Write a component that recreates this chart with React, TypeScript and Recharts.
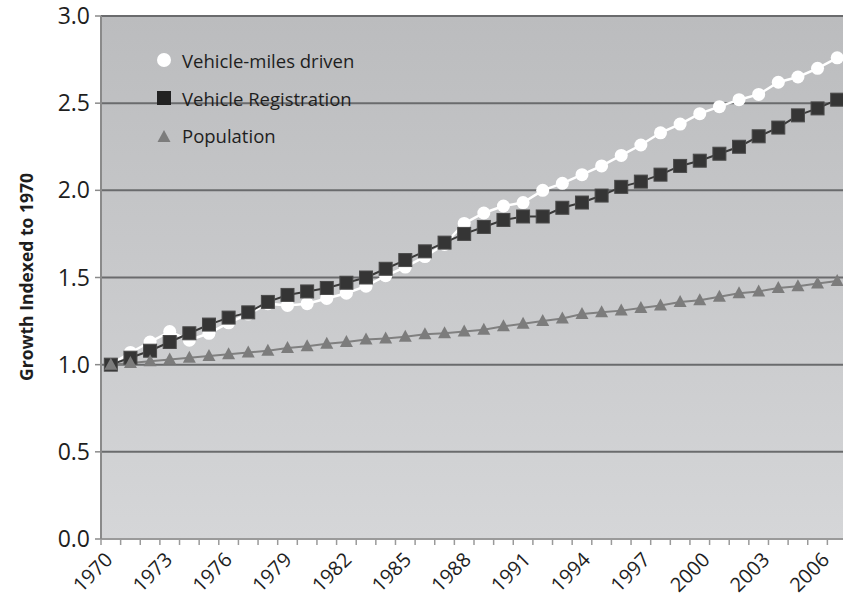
import { LineChart, Line, XAxis, YAxis, CartesianGrid } from 'recharts';

const years = [
  '1970', '1971', '1972', '1973', '1974', '1975', '1976', '1977', '1978', '1979',
  '1980', '1981', '1982', '1983', '1984', '1985', '1986', '1987', '1988', '1989',
  '1990', '1991', '1992', '1993', '1994', '1995', '1996', '1997', '1998', '1999',
  '2000', '2001', '2002', '2003', '2004', '2005', '2006', '2007',
];

const vehicleMiles = [
  1.0, 1.07, 1.13, 1.19, 1.14, 1.18, 1.24, 1.29, 1.35, 1.34,
  1.35, 1.38, 1.41, 1.45, 1.51, 1.56, 1.62, 1.69, 1.81, 1.87,
  1.91, 1.93, 2.0, 2.04, 2.09, 2.14, 2.2, 2.26, 2.33, 2.38,
  2.44, 2.48, 2.52, 2.55, 2.62, 2.65, 2.7, 2.76,
];

const registrations = [
  1.0, 1.04, 1.08, 1.13, 1.18, 1.23, 1.27, 1.3, 1.36, 1.4,
  1.42, 1.44, 1.47, 1.5, 1.55, 1.6, 1.65, 1.7, 1.75, 1.79,
  1.83, 1.85, 1.85, 1.9, 1.93, 1.97, 2.02, 2.05, 2.09, 2.14,
  2.17, 2.21, 2.25, 2.31, 2.36, 2.43, 2.47, 2.52,
];

const population = [
  1.0, 1.01, 1.02, 1.03, 1.04, 1.05, 1.06, 1.07, 1.08, 1.095,
  1.105, 1.12, 1.13, 1.145, 1.15, 1.16, 1.175, 1.18, 1.19, 1.2,
  1.22, 1.235, 1.25, 1.265, 1.29, 1.3, 1.31, 1.325, 1.34, 1.36,
  1.37, 1.39, 1.41, 1.42, 1.44, 1.45, 1.465, 1.48,
];

const yTicks = [0, 0.5, 1, 1.5, 2, 2.5, 3];

const data = years.map((year, i) => ({
  year,
  miles: vehicleMiles[i],
  registration: registrations[i],
  population: population[i],
}));

const FONT = '"Open Sans", "Noto Sans", sans-serif';
const Y_AXIS_W = 101;
const BAND = 19.63;
const CHART_W = Math.round(Y_AXIS_W + BAND * years.length);

const WHITE = '#ffffff';
const DARK = '#353535';
const GREY = '#7c7c7c';

// ticks sit on the band edges, labels every third year
function XTick(props: any) {
  const { x, y, payload, index } = props;
  const left = x - BAND / 2;
  const lx = x + 3 + index * 0.28;
  const ly = y + 22;
  return (
    <g>
      <line x1={left} x2={left} y1={y} y2={y + 6} stroke="#9a9a9a" strokeWidth={1.5} />
      {index % 3 === 0 && (
        <text
          x={lx}
          y={ly}
          transform={`rotate(-45, ${lx}, ${ly})`}
          textAnchor="end"
          fontSize={20}
          fontFamily={FONT}
          fill="#1e1e1e"
        >
          {payload.value}
        </text>
      )}
    </g>
  );
}

const squareDot = (props: any) => {
  const { cx, cy, index } = props;
  return <rect key={`sq-${index}`} x={cx - 6.5} y={cy - 6.5} width={13} height={13} fill={DARK} stroke="#4a4a4a" strokeWidth={1} />;
};

const triDot = (props: any) => {
  const { cx, cy, index } = props;
  return (
    <polygon
      key={`tri-${index}`}
      points={`${cx},${cy - 7} ${cx + 6.5},${cy + 5} ${cx - 6.5},${cy + 5}`}
      fill={GREY}
    />
  );
};

const legendItems = [
  { name: 'Vehicle-miles driven', shape: 'circle' },
  { name: 'Vehicle Registration', shape: 'square' },
  { name: 'Population', shape: 'triangle' },
];

function LegendBox() {
  return (
    <div
      style={{
        position: 'absolute',
        left: 154,
        top: 41.5,
        fontFamily: FONT,
        fontSize: 18.5,
        color: '#1e1e1e',
      }}
    >
      {legendItems.map((item) => (
        <div key={item.name} style={{ display: 'flex', alignItems: 'center', height: 37.7 }}>
          <svg width={20} height={16} style={{ marginRight: 8 }}>
            {item.shape === 'circle' && <circle cx={10} cy={8} r={7} fill={WHITE} />}
            {item.shape === 'square' && <rect x={3} y={1} width={14} height={14} fill="#222" />}
            {item.shape === 'triangle' && <polygon points="10,2 16.5,14 3.5,14" fill={GREY} />}
          </svg>
          <span>{item.name}</span>
        </div>
      ))}
    </div>
  );
}

export default function App() {
  return (
    <div style={{ position: 'absolute', left: 0, top: 0, width: 843, height: 598, overflow: 'hidden', background: '#fff' }}>
      <div
        style={{
          position: 'absolute',
          left: 26,
          top: 277,
          transform: 'translate(-50%, -50%) rotate(-90deg)',
          whiteSpace: 'nowrap',
          fontFamily: FONT,
          fontWeight: 700,
          fontSize: 17.5,
          color: '#1e1e1e',
        }}
      >
        Growth Indexed to 1970
      </div>
      <LineChart width={CHART_W} height={598} data={data} margin={{ top: 16, right: 0, bottom: 0, left: 0 }}>
        <defs>
          <linearGradient id="plotBg" x1="0" y1="0" x2="0" y2="1">
            <stop offset="0%" stopColor="#bbbcbe" />
            <stop offset="100%" stopColor="#d5d6d8" />
          </linearGradient>
        </defs>
        <CartesianGrid vertical={false} fill="url(#plotBg)" stroke="#6a6b6d" strokeWidth={2} />
        <XAxis
          dataKey="year"
          interval={0}
          height={59}
          padding={{ left: BAND / 2, right: BAND / 2 }}
          tickLine={false}
          tickSize={0}
          tickMargin={0}
          tick={<XTick />}
          axisLine={{ stroke: '#9a9a9a', strokeWidth: 2 }}
        />
        <YAxis
          domain={[0, 3]}
          ticks={yTicks}
          width={Y_AXIS_W}
          tickFormatter={(v: number) => v.toFixed(1)}
          tick={{ fontSize: 23, fontFamily: FONT, fill: '#1e1e1e' }}
          tickSize={6}
          tickMargin={5}
          tickLine={{ stroke: '#8a8a8a', strokeWidth: 1.5 }}
          axisLine={{ stroke: '#8a8a8a', strokeWidth: 2 }}
        />
        <Line
          dataKey="miles"
          name="Vehicle-miles driven"
          stroke={WHITE}
          strokeWidth={2.5}
          dot={{ r: 6.5, fill: WHITE, stroke: WHITE, strokeWidth: 0 }}
          isAnimationActive={false}
        />
        <Line
          dataKey="registration"
          name="Vehicle Registration"
          stroke="#3a3a3a"
          strokeWidth={2}
          dot={squareDot}
          isAnimationActive={false}
        />
        <Line
          dataKey="population"
          name="Population"
          stroke="#808080"
          strokeWidth={2}
          dot={triDot}
          isAnimationActive={false}
        />
      </LineChart>
      <LegendBox />
    </div>
  );
}
